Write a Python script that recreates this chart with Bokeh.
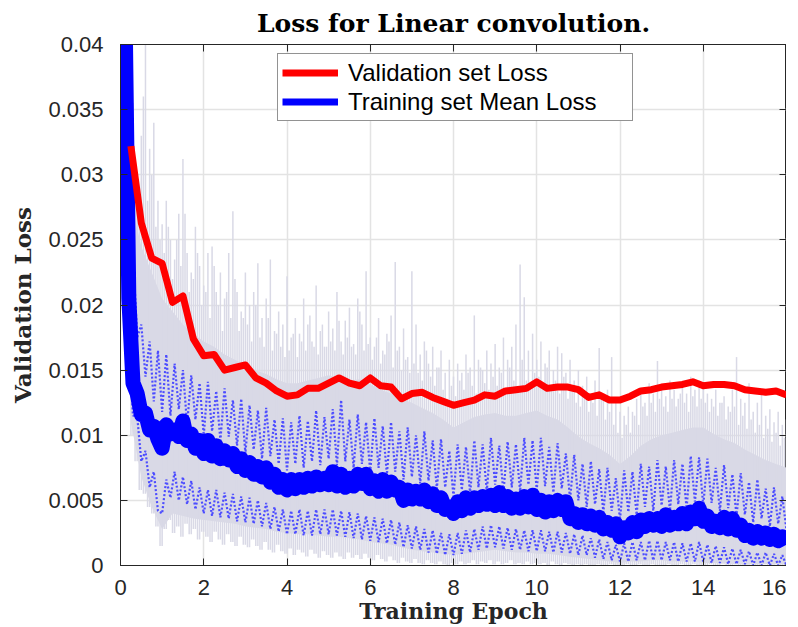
import numpy as np
from bokeh.plotting import figure
from bokeh.models import Range1d, FixedTicker, LinearAxis, Legend, LegendItem, CustomJSTickFormatter
from bokeh.embed import file_html
from bokeh.resources import INLINE

# ---------------- text / ticks ----------------
title_text = "Loss for Linear convolution."
x_label = "Training Epoch"
y_label = "Validation Loss"
legend_labels = ["Validation set Loss", "Training set Mean Loss"]
x_ticks = [0, 2, 4, 6, 8, 10, 12, 14, 16]
x_tick_labels = ["0", "2", "4", "6", "8", "10", "12", "14", "16"]
y_ticks = [0, 0.005, 0.01, 0.015, 0.02, 0.025, 0.03, 0.035, 0.04]
y_tick_labels = ["0", "0.005", "0.01", "0.015", "0.02", "0.025", "0.03", "0.035", "0.04"]

# ---------------- data ----------------
# fine grid: every 0.1 epoch (0.1 .. 16.0); coarse grid: every 0.25 epoch (0.25 .. 16.0)
epoch_fine = np.round(np.arange(1, 161) * 0.1, 2)
epoch_mid = np.round(epoch_fine - 0.05, 2)
epoch_val = np.round(np.arange(1, 65) * 0.25, 2)

val_loss = [
    0.0322, 0.0263, 0.0236, 0.0232, 0.0202, 0.0207, 0.0174, 0.0161,
    0.0162, 0.0150, 0.0152, 0.0154, 0.0144, 0.0140, 0.0134, 0.0130,
    0.0131, 0.0136, 0.0136, 0.0140, 0.0144, 0.0140, 0.0138, 0.0144,
    0.0138, 0.0137, 0.0128, 0.0132, 0.0133, 0.0129, 0.0126, 0.0123,
    0.0125, 0.0127, 0.0131, 0.0130, 0.0134, 0.0135, 0.0136, 0.0141,
    0.0136, 0.0137, 0.0137, 0.0135, 0.0129, 0.0131, 0.0127, 0.0127,
    0.0130, 0.0134, 0.0135, 0.0137, 0.0138, 0.0139, 0.0141, 0.0138,
    0.0139, 0.0139, 0.0138, 0.0135, 0.0134, 0.0133, 0.0134, 0.0131,
]

train_mean = [
    0.0450, 0.0205, 0.0140, 0.0132, 0.0116, 0.0117, 0.0104, 0.0107, 0.0097, 0.0090,
    0.0108, 0.0101, 0.0104, 0.0099, 0.0111, 0.0096, 0.0101, 0.0090, 0.0096, 0.0086,
    0.0096, 0.0084, 0.0092, 0.0082, 0.0088, 0.0081, 0.0086, 0.0076, 0.0082, 0.0073,
    0.0079, 0.0070, 0.0076, 0.0068, 0.0075, 0.0064, 0.0070, 0.0060, 0.0066, 0.0058,
    0.0066, 0.0059, 0.0066, 0.0060, 0.0067, 0.0061, 0.0068, 0.0062, 0.0067, 0.0062,
    0.0072, 0.0061, 0.0070, 0.0060, 0.0067, 0.0061, 0.0070, 0.0063, 0.0070, 0.0059,
    0.0065, 0.0057, 0.0066, 0.0057, 0.0064, 0.0058, 0.0060, 0.0050, 0.0058, 0.0051,
    0.0057, 0.0051, 0.0058, 0.0049, 0.0055, 0.0046, 0.0052, 0.0043, 0.0045, 0.0040,
    0.0049, 0.0042, 0.0052, 0.0044, 0.0052, 0.0046, 0.0053, 0.0047, 0.0054, 0.0046,
    0.0056, 0.0046, 0.0053, 0.0044, 0.0051, 0.0044, 0.0053, 0.0045, 0.0054, 0.0043,
    0.0050, 0.0041, 0.0049, 0.0042, 0.0050, 0.0043, 0.0049, 0.0036, 0.0040, 0.0033,
    0.0039, 0.0032, 0.0038, 0.0031, 0.0037, 0.0028, 0.0033, 0.0027, 0.0032, 0.0022,
    0.0029, 0.0025, 0.0033, 0.0026, 0.0035, 0.0030, 0.0036, 0.0031, 0.0036, 0.0030,
    0.0039, 0.0031, 0.0037, 0.0032, 0.0040, 0.0032, 0.0041, 0.0036, 0.0044, 0.0034,
    0.0038, 0.0030, 0.0034, 0.0029, 0.0037, 0.0028, 0.0036, 0.0027, 0.0031, 0.0023,
    0.0027, 0.0021, 0.0026, 0.0021, 0.0025, 0.0020, 0.0024, 0.0019, 0.0022, 0.0016,
]

train_upper = [
    0.0460, 0.0310, 0.0240, 0.0175, 0.0185, 0.0145, 0.0172, 0.0126, 0.0165, 0.0118,
    0.0162, 0.0115, 0.0155, 0.0120, 0.0150, 0.0108, 0.0146, 0.0112, 0.0140, 0.0100,
    0.0141, 0.0103, 0.0134, 0.0096, 0.0136, 0.0099, 0.0127, 0.0092, 0.0128, 0.0086,
    0.0123, 0.0089, 0.0119, 0.0082, 0.0121, 0.0084, 0.0112, 0.0078, 0.0113, 0.0073,
    0.0110, 0.0078, 0.0115, 0.0075, 0.0111, 0.0080, 0.0119, 0.0077, 0.0114, 0.0082,
    0.0120, 0.0077, 0.0127, 0.0080, 0.0112, 0.0075, 0.0116, 0.0078, 0.0110, 0.0072,
    0.0113, 0.0075, 0.0107, 0.0070, 0.0110, 0.0072, 0.0103, 0.0066, 0.0106, 0.0068,
    0.0100, 0.0063, 0.0103, 0.0065, 0.0096, 0.0059, 0.0097, 0.0060, 0.0088, 0.0053,
    0.0093, 0.0058, 0.0091, 0.0055, 0.0096, 0.0060, 0.0093, 0.0057, 0.0098, 0.0062,
    0.0092, 0.0056, 0.0095, 0.0060, 0.0093, 0.0057, 0.0098, 0.0062, 0.0096, 0.0058,
    0.0098, 0.0061, 0.0091, 0.0056, 0.0094, 0.0059, 0.0086, 0.0051, 0.0085, 0.0050,
    0.0078, 0.0045, 0.0080, 0.0047, 0.0074, 0.0041, 0.0075, 0.0042, 0.0067, 0.0035,
    0.0073, 0.0041, 0.0072, 0.0039, 0.0078, 0.0045, 0.0076, 0.0042, 0.0081, 0.0046,
    0.0076, 0.0042, 0.0081, 0.0047, 0.0078, 0.0044, 0.0084, 0.0049, 0.0083, 0.0046,
    0.0082, 0.0048, 0.0075, 0.0042, 0.0077, 0.0044, 0.0070, 0.0038, 0.0071, 0.0039,
    0.0064, 0.0033, 0.0066, 0.0036, 0.0059, 0.0030, 0.0060, 0.0032, 0.0053, 0.0027,
]

train_lower = [
    0.0410, 0.0170, 0.0115, 0.0115, 0.0080, 0.0088, 0.0060, 0.0072, 0.0042, 0.0040,
    0.0066, 0.0052, 0.0072, 0.0050, 0.0068, 0.0047, 0.0065, 0.0043, 0.0060, 0.0040,
    0.0058, 0.0038, 0.0058, 0.0037, 0.0056, 0.0036, 0.0055, 0.0034, 0.0053, 0.0033,
    0.0052, 0.0032, 0.0050, 0.0030, 0.0048, 0.0028, 0.0045, 0.0026, 0.0043, 0.0024,
    0.0042, 0.0024, 0.0043, 0.0023, 0.0042, 0.0023, 0.0043, 0.0024, 0.0043, 0.0024,
    0.0043, 0.0023, 0.0042, 0.0022, 0.0041, 0.0021, 0.0040, 0.0020, 0.0038, 0.0019,
    0.0037, 0.0018, 0.0036, 0.0017, 0.0035, 0.0016, 0.0033, 0.0014, 0.0031, 0.0013,
    0.0030, 0.0012, 0.0028, 0.0010, 0.0027, 0.0009, 0.0025, 0.0008, 0.0024, 0.0008,
    0.0025, 0.0009, 0.0027, 0.0010, 0.0028, 0.0012, 0.0030, 0.0013, 0.0031, 0.0014,
    0.0030, 0.0013, 0.0029, 0.0012, 0.0028, 0.0012, 0.0027, 0.0011, 0.0027, 0.0011,
    0.0027, 0.0011, 0.0026, 0.0010, 0.0026, 0.0010, 0.0025, 0.0009, 0.0024, 0.0008,
    0.0023, 0.0008, 0.0021, 0.0006, 0.0020, 0.0005, 0.0018, 0.0004, 0.0016, 0.0003,
    0.0017, 0.0003, 0.0018, 0.0004, 0.0018, 0.0004, 0.0019, 0.0004, 0.0019, 0.0004,
    0.0018, 0.0004, 0.0018, 0.0003, 0.0017, 0.0003, 0.0017, 0.0003, 0.0018, 0.0003,
    0.0016, 0.0002, 0.0015, 0.0002, 0.0014, 0.0001, 0.0013, 0.0001, 0.0012, 0.0001,
    0.0011, 0.0000, 0.0010, 0.0000, 0.0010, 0.0000, 0.0009, 0.0000, 0.0008, 0.0000,
]

# raw per-batch training loss: dense core (per 0.25 epoch) and individual peaks/troughs
raw_core_top = [
    0.0280, 0.0245, 0.0225, 0.0205, 0.0195, 0.0185, 0.0178, 0.0172,
    0.0168, 0.0162, 0.0158, 0.0154, 0.0150, 0.0147, 0.0143, 0.0140,
    0.0140, 0.0142, 0.0144, 0.0146, 0.0144, 0.0142, 0.0143, 0.0139,
    0.0135, 0.0132, 0.0128, 0.0125, 0.0121, 0.0117, 0.0112, 0.0106,
    0.0110, 0.0114, 0.0116, 0.0117, 0.0115, 0.0115, 0.0117, 0.0119,
    0.0115, 0.0112, 0.0106, 0.0099, 0.0094, 0.0090, 0.0085, 0.0078,
    0.0084, 0.0092, 0.0097, 0.0100, 0.0102, 0.0104, 0.0106, 0.0106,
    0.0101, 0.0097, 0.0094, 0.0089, 0.0085, 0.0081, 0.0078, 0.0075,
]
raw_core_bottom = [
    0.0110, 0.0068, 0.0045, 0.0028, 0.0040, 0.0038, 0.0036, 0.0035,
    0.0034, 0.0033, 0.0032, 0.0030, 0.0029, 0.0028, 0.0026, 0.0025,
    0.0024, 0.0024, 0.0023, 0.0022, 0.0022, 0.0021, 0.0020, 0.0018,
    0.0017, 0.0016, 0.0014, 0.0012, 0.0011, 0.0010, 0.0009, 0.0008,
    0.0009, 0.0010, 0.0011, 0.0012, 0.0011, 0.0010, 0.0010, 0.0009,
    0.0009, 0.0008, 0.0007, 0.0006, 0.0005, 0.0004, 0.0003, 0.0002,
    0.0003, 0.0003, 0.0004, 0.0004, 0.0003, 0.0003, 0.0003, 0.0002,
    0.0002, 0.0002, 0.0001, 0.0001, 0.0001, 0.0001, 0.0001, 0.0001,
]
raw_peak = [
    0.0400, 0.0400, 0.0355, 0.0300, 0.0330, 0.0400, 0.0320, 0.0340, 0.0280, 0.0262,
    0.0280, 0.0250, 0.0235, 0.0270, 0.0312, 0.0240, 0.0225, 0.0260, 0.0230, 0.0215,
    0.0240, 0.0245, 0.0210, 0.0225, 0.0205, 0.0240, 0.0272, 0.0210, 0.0195, 0.0225,
    0.0200, 0.0210, 0.0232, 0.0190, 0.0205, 0.0235, 0.0180, 0.0195, 0.0185, 0.0222,
    0.0175, 0.0190, 0.0178, 0.0205, 0.0185, 0.0172, 0.0215, 0.0180, 0.0168, 0.0195,
    0.0182, 0.0210, 0.0172, 0.0188, 0.0198, 0.0170, 0.0205, 0.0185, 0.0226, 0.0175,
    0.0168, 0.0190, 0.0165, 0.0178, 0.0192, 0.0233, 0.0168, 0.0182, 0.0160, 0.0226,
    0.0185, 0.0162, 0.0172, 0.0155, 0.0168, 0.0152, 0.0165, 0.0148, 0.0158, 0.0145,
    0.0155, 0.0148, 0.0162, 0.0152, 0.0192, 0.0158, 0.0150, 0.0165, 0.0155, 0.0170,
    0.0152, 0.0175, 0.0158, 0.0168, 0.0185, 0.0231, 0.0206, 0.0165, 0.0178, 0.0158,
    0.0172, 0.0155, 0.0165, 0.0150, 0.0168, 0.0163, 0.0148, 0.0158, 0.0142, 0.0150,
    0.0138, 0.0145, 0.0132, 0.0142, 0.0167, 0.0128, 0.0135, 0.0160, 0.0125, 0.0118,
    0.0115, 0.0122, 0.0118, 0.0128, 0.0135, 0.0125, 0.0140, 0.0132, 0.0157, 0.0138,
    0.0130, 0.0142, 0.0135, 0.0128, 0.0140, 0.0132, 0.0145, 0.0135, 0.0142, 0.0138,
    0.0132, 0.0128, 0.0135, 0.0125, 0.0130, 0.0122, 0.0135, 0.0160, 0.0128, 0.0125,
    0.0140, 0.0118, 0.0125, 0.0135, 0.0115, 0.0120, 0.0110, 0.0118, 0.0108, 0.0112,
]
raw_peak_mid = [
    0.0400, 0.0400, 0.0340, 0.0310, 0.0290, 0.0360, 0.0280, 0.0300, 0.0260, 0.0250,
    0.0240, 0.0260, 0.0220, 0.0250, 0.0230, 0.0270, 0.0210, 0.0220, 0.0240, 0.0200,
    0.0210, 0.0190, 0.0230, 0.0200, 0.0180, 0.0210, 0.0190, 0.0220, 0.0180, 0.0190,
    0.0185, 0.0172, 0.0200, 0.0175, 0.0168, 0.0190, 0.0165, 0.0178, 0.0168, 0.0160,
    0.0165, 0.0178, 0.0160, 0.0172, 0.0165, 0.0192, 0.0168, 0.0162, 0.0185, 0.0168,
    0.0172, 0.0165, 0.0188, 0.0162, 0.0175, 0.0168, 0.0162, 0.0195, 0.0165, 0.0170,
    0.0158, 0.0175, 0.0155, 0.0162, 0.0172, 0.0152, 0.0165, 0.0150, 0.0158, 0.0148,
    0.0155, 0.0148, 0.0142, 0.0165, 0.0145, 0.0138, 0.0152, 0.0135, 0.0128, 0.0138,
    0.0130, 0.0142, 0.0135, 0.0148, 0.0138, 0.0132, 0.0152, 0.0140, 0.0135, 0.0145,
    0.0138, 0.0148, 0.0135, 0.0152, 0.0142, 0.0138, 0.0158, 0.0142, 0.0135, 0.0148,
    0.0145, 0.0138, 0.0152, 0.0135, 0.0142, 0.0132, 0.0145, 0.0128, 0.0135, 0.0125,
    0.0122, 0.0132, 0.0118, 0.0125, 0.0115, 0.0128, 0.0112, 0.0118, 0.0108, 0.0102,
    0.0098, 0.0108, 0.0102, 0.0115, 0.0108, 0.0122, 0.0115, 0.0125, 0.0118, 0.0128,
    0.0122, 0.0118, 0.0128, 0.0122, 0.0132, 0.0125, 0.0118, 0.0130, 0.0122, 0.0128,
    0.0125, 0.0118, 0.0122, 0.0115, 0.0125, 0.0112, 0.0118, 0.0122, 0.0108, 0.0115,
    0.0105, 0.0112, 0.0102, 0.0108, 0.0098, 0.0105, 0.0095, 0.0102, 0.0092, 0.0098,
]
raw_trough = [
    0.0400, 0.0160, 0.0100, 0.0080, 0.0058, 0.0055, 0.0045, 0.0040, 0.0030, 0.0015,
    0.0028, 0.0035, 0.0025, 0.0030, 0.0022, 0.0032, 0.0024, 0.0028, 0.0020, 0.0026,
    0.0022, 0.0018, 0.0026, 0.0020, 0.0016, 0.0024, 0.0018, 0.0015, 0.0022, 0.0016,
    0.0014, 0.0020, 0.0015, 0.0012, 0.0018, 0.0012, 0.0010, 0.0016, 0.0011, 0.0009,
    0.0013, 0.0008, 0.0012, 0.0010, 0.0007, 0.0012, 0.0009, 0.0006, 0.0011, 0.0008,
    0.0006, 0.0010, 0.0007, 0.0005, 0.0010, 0.0006, 0.0008, 0.0005, 0.0009, 0.0006,
    0.0004, 0.0008, 0.0005, 0.0003, 0.0007, 0.0004, 0.0002, 0.0006, 0.0003, 0.0002,
    0.0005, 0.0002, 0.0001, 0.0004, 0.0002, 0.0001, 0.0003, 0.0001, 0.0000, 0.0002,
    0.0001, 0.0003, 0.0001, 0.0002, 0.0004, 0.0001, 0.0003, 0.0002, 0.0004, 0.0001,
    0.0003, 0.0001, 0.0002, 0.0004, 0.0001, 0.0002, 0.0001, 0.0003, 0.0001, 0.0002,
    0.0001, 0.0002, 0.0000, 0.0003, 0.0001, 0.0000, 0.0002, 0.0001, 0.0000, 0.0001,
    0.0000, 0.0001, 0.0000, 0.0000, 0.0001, 0.0000, 0.0000, 0.0001, 0.0000, 0.0000,
    0.0000, 0.0001, 0.0000, 0.0000, 0.0001, 0.0000, 0.0000, 0.0001, 0.0000, 0.0000,
    0.0000, 0.0001, 0.0000, 0.0000, 0.0001, 0.0000, 0.0000, 0.0001, 0.0000, 0.0000,
    0.0000, 0.0001, 0.0000, 0.0000, 0.0001, 0.0000, 0.0000, 0.0001, 0.0000, 0.0000,
    0.0000, 0.0001, 0.0000, 0.0000, 0.0001, 0.0000, 0.0000, 0.0001, 0.0000, 0.0000,
]

# ---------------- styling ----------------
AX = "#262626"
GRAY = "#d9d9e6"
GRID = "#e3e3e3"
TICK_FONT = "Liberation Sans"
SERIF = "DejaVu Serif"

p = figure(
    frame_width=666, frame_height=521,
    x_range=Range1d(0, 16), y_range=Range1d(0, 0.04),
    output_backend="svg", toolbar_location=None,
    min_border_left=120, min_border_right=0, min_border_top=44, min_border_bottom=40,
)
p.background_fill_color = "white"
p.border_fill_color = "white"
p.outline_line_color = AX
p.outline_line_width = 1

p.title.text = title_text
p.title.align = "center"
p.title.text_font = SERIF
p.title.text_font_style = "bold"
p.title.text_font_size = "25px"
p.title.text_color = "black"
p.title.standoff = 13

for ax in p.xaxis + p.yaxis:
    ax.axis_line_color = AX
    ax.major_tick_line_color = AX
    ax.major_tick_in = 7
    ax.major_tick_out = 0
    ax.minor_tick_line_color = None
    ax.major_label_text_font = TICK_FONT
    ax.major_label_text_font_size = "22px"
    ax.major_label_text_color = AX
    ax.axis_label_text_font = SERIF
    ax.axis_label_text_font_style = "bold"
    ax.axis_label_text_color = AX

p.xaxis.ticker = FixedTicker(ticks=x_ticks)
p.xaxis.major_label_overrides = {t: s for t, s in zip(x_ticks, x_tick_labels)}
p.xaxis.axis_label = x_label
p.xaxis.axis_label_text_font_size = "22px"
p.xaxis.major_label_standoff = 14
p.xaxis.axis_label_standoff = 0

p.yaxis.ticker = FixedTicker(ticks=y_ticks)
p.yaxis.major_label_overrides = {t: s for t, s in zip(y_ticks, y_tick_labels)}
p.yaxis.axis_label = y_label
p.yaxis.axis_label_text_font_size = "23px"
p.yaxis.major_label_standoff = 17
p.yaxis.axis_label_standoff = 9

# box ticks on top and right (no labels)
blank = CustomJSTickFormatter(code="return ''")
top_axis = LinearAxis(ticker=FixedTicker(ticks=x_ticks), formatter=blank,
                      major_label_standoff=0, major_tick_in=7, major_tick_out=0,
                      minor_tick_line_color=None, axis_line_color=AX, major_tick_line_color=AX)
right_axis = LinearAxis(ticker=FixedTicker(ticks=y_ticks), formatter=blank,
                        major_label_standoff=0, major_tick_in=7, major_tick_out=0,
                        minor_tick_line_color=None, axis_line_color=AX, major_tick_line_color=AX)
p.add_layout(top_axis, "above")
p.add_layout(right_axis, "right")

p.xgrid.ticker = FixedTicker(ticks=x_ticks)
p.ygrid.ticker = FixedTicker(ticks=y_ticks)
for g in (p.xgrid[0], p.ygrid[0]):
    g.grid_line_color = GRID
    g.grid_line_width = 1.5

# ---------------- glyphs ----------------
p.varea(x=epoch_val, y1=raw_core_bottom, y2=raw_core_top, fill_color=GRAY, fill_alpha=1)
p.segment(x0=epoch_fine, y0=raw_trough, x1=epoch_fine, y1=raw_peak,
          line_color=GRAY, line_width=1.5)
p.segment(x0=epoch_mid, y0=raw_trough, x1=epoch_mid, y1=raw_peak_mid,
          line_color=GRAY, line_width=1.5)

p.line(epoch_fine, train_upper, line_color="#4d4dff", line_width=2.2, line_dash="2 2")
p.line(epoch_fine, train_lower, line_color="#4d4dff", line_width=2.2, line_dash="2 2")
p.line(epoch_fine, train_mean, line_color="#0000ff", line_width=15, line_join="round")
red = p.line(epoch_val, val_loss, line_color="#ff0000", line_width=7, line_join="round")

# legend swatch for the mean loss (single point: draws nothing in the plot)
leg_blue = p.line(x=[epoch_fine[0]], y=[train_mean[0]], line_color="#0000ff", line_width=7)
legend = Legend(
    items=[LegendItem(label=legend_labels[0], renderers=[red]),
           LegendItem(label=legend_labels[1], renderers=[leg_blue])],
    location=(157, 444),
    label_text_font=TICK_FONT, label_text_font_size="24px", label_text_color="black",
    glyph_width=56, glyph_height=29, label_height=29, label_width=280,
    label_standoff=10, padding=4, spacing=0, margin=0,
    border_line_color=AX, border_line_width=1, background_fill_alpha=1,
)
p.add_layout(legend, "center")

open("out.html", "w").write(file_html(p, INLINE))
